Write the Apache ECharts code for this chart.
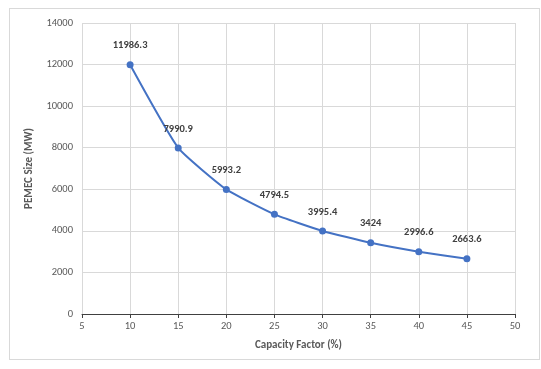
<!DOCTYPE html>
<html>
<head>
<meta charset="UTF-8">
<title>PEMEC Size</title>
<style>
  html, body { margin: 0; padding: 0; background: #fff; }
  #box { position: absolute; left: 9px; top: 8px; width: 531px; height: 352px; border: 1px solid #d9d9d9; box-sizing: border-box; }
  #chart { width: 541px; height: 369px; }
</style>
</head>
<body>
<div id="box"></div>
<div id="chart"></div>
<script src="https://cdn.jsdelivr.net/npm/echarts@6/dist/echarts.min.js"></script>
<script>
// capacity factor (%) and PEMEC size (MW)
var capacityFactor = [10, 15, 20, 25, 30, 35, 40, 45];
var pemecSize = [11986.3, 7990.9, 5993.2, 4794.5, 3995.4, 3424, 2996.6, 2663.6];

var chart = echarts.init(document.getElementById('chart'));

var points = capacityFactor.map(function (x, i) { return [x, pemecSize[i]]; });

var font = 'Calibri, Carlito, "Open Sans", sans-serif';

chart.setOption({
  animation: false,
  textStyle: { fontFamily: font },
  grid: { left: 82, right: 26, top: 23, bottom: 55 },
  xAxis: {
    type: 'value',
    min: 5, max: 50, interval: 5,
    name: 'Capacity Factor (%)',
    nameLocation: 'middle',
    nameGap: 26,
    nameTextStyle: { color: '#595959', fontSize: 11, fontWeight: 'bold', fontFamily: font },
    axisLine: { lineStyle: { color: '#404040', width: 1 } },
    axisTick: { show: true, length: 4, lineStyle: { color: '#404040' } },
    axisLabel: { color: '#595959', fontSize: 10.5, margin: 7, fontFamily: font },
    splitLine: { show: true, lineStyle: { color: '#d9d9d9' } }
  },
  yAxis: {
    type: 'value',
    min: 0, max: 14000, interval: 2000,
    name: 'PEMEC Size (MW)',
    nameLocation: 'middle',
    nameGap: 47,
    nameTextStyle: { color: '#595959', fontSize: 11, fontWeight: 'bold', fontFamily: font },
    axisLine: { show: false },
    axisTick: { show: false },
    axisLabel: {
      color: '#595959', fontSize: 10.5, margin: 9, fontFamily: font,
      formatter: function (v) { return String(v); }
    },
    splitLine: { show: true, lineStyle: { color: '#d9d9d9' } }
  },
  series: [{
    type: 'line',
    data: points,
    smooth: 0.15,
    symbol: 'circle',
    symbolSize: 7,
    lineStyle: { color: '#4472c4', width: 2 },
    itemStyle: { color: '#4472c4' },
    label: {
      show: true,
      position: 'top',
      distance: 10,
      color: '#404040',
      fontSize: 10.5,
      fontWeight: 'bold',
      fontFamily: font,
      formatter: function (p) { return p.value[1]; }
    }
  }]
});
</script>
</body>
</html>
